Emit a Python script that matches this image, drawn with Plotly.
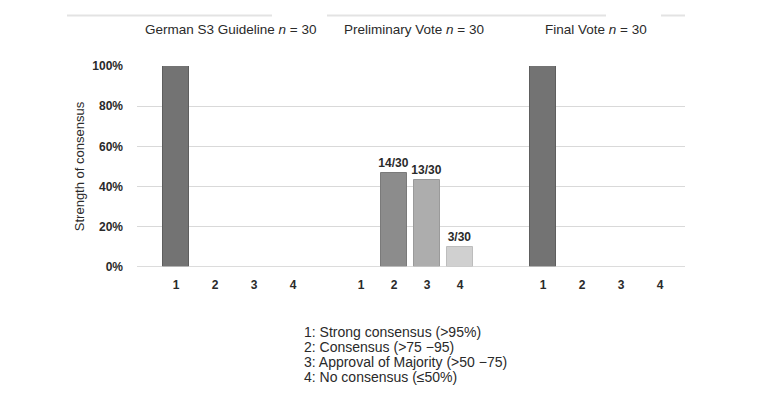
import plotly.graph_objects as go

# ---- data ----
group_titles = ["German S3 Guideline <i>n</i> = 30",
                "Preliminary Vote <i>n</i> = 30",
                "Final Vote <i>n</i> = 30"]
categories = ["1", "2", "3", "4"]
german_s3 = [1.0, 0.0, 0.0, 0.0]
preliminary = [0.0, 14 / 30, 13 / 30, 3 / 30]
final_vote = [1.0, 0.0, 0.0, 0.0]
preliminary_labels = ["", "14/30", "13/30", "3/30"]
y_ticks = [0, 0.2, 0.4, 0.6, 0.8, 1.0]
y_ticklabels = ["0%", "20%", "40%", "60%", "80%", "100%"]
legend_lines = ["1: Strong consensus (>95%)",
                "2: Consensus (>75 \u221295)",
                "3: Approval of Majority (>50 \u221275)",
                "4: No consensus (\u226450%)"]

# ---- styling / layout ----
OFF = 8                               # page body margin of the browser
W, H = 772 - OFF, 397 - OFF
PL, PR, PT, PB = 137, 685, 66, 267   # plot area in page pixels
cat_colors = ["#737373", "#8c8c8c", "#adadad", "#d0d0d0"]
border_colors = ["#5e5e5e", "#7a7a7a", "#9a9a9a", "#bdbdbd"]
group_first = [176, 361, 543]      # axis units of first category in each group
group_step = [39, 33, 39]
font_family = "Liberation Sans, Arial, sans-serif"
text_color = "#2a2a2a"


def px(x):
    return (x - PL) / (PR - PL)


def py(y):
    return (PB - y) / (PB - PT)


series = [german_s3, preliminary, final_vote]
texts = [[""] * 4, preliminary_labels, [""] * 4]

fig = go.Figure()
tickvals, ticktext = [], []
for g, vals in enumerate(series):
    xs = [group_first[g] + i * group_step[g] for i in range(len(categories))]
    tickvals += xs
    ticktext += categories
    fig.add_trace(go.Bar(
        x=xs, y=vals, width=26,
        marker=dict(color=cat_colors,
                    line=dict(color=border_colors,
                              width=[1 if v > 0 else 0 for v in vals])),
        text=texts[g], textposition="outside", cliponaxis=False,
        constraintext="none",
        textfont=dict(family=font_family, size=12, color=text_color, weight="bold"),
        showlegend=False, hoverinfo="skip"))

fig.update_layout(
    width=W, height=H,
    margin=dict(l=PL - OFF, r=772 - PR, t=PT - OFF, b=397 - PB, autoexpand=False),
    paper_bgcolor="white", plot_bgcolor="white",
    font=dict(family=font_family, color=text_color),
    xaxis=dict(range=[PL, PR], tickvals=tickvals, ticktext=ticktext,
               showgrid=False, zeroline=False, showline=False,
               ticks="", ticklabelstandoff=9, automargin=False,
               tickfont=dict(size=12, color=text_color, weight="bold")),
    yaxis=dict(range=[0, 1], tickvals=y_ticks, ticktext=y_ticklabels,
               showgrid=True, gridcolor="#d9d9d9", gridwidth=1,
               zeroline=False, showline=False, ticks="",
               ticklabelstandoff=13, automargin=False,
               tickfont=dict(size=12, color=text_color, weight="bold"),
               title=dict(text="Strength of consensus", standoff=4,
                          font=dict(size=13, color=text_color))),
    bargap=0,
)

# bottom axis line
fig.add_shape(type="line", xref="paper", yref="y", x0=0, x1=1, y0=0, y1=0,
              line=dict(color="#d0d0d0", width=1.5))

# group titles
title_centers = [231, 414, 596]
for t, cx in zip(group_titles, title_centers):
    fig.add_annotation(text=t, x=px(cx), y=py(29), xref="paper", yref="paper",
                       xanchor="center", yanchor="middle", showarrow=False,
                       font=dict(size=13.5, color=text_color, family=font_family))

# decorative top lines
for x0, x1 in [(67, 272), (327, 606), (661, 685)]:
    fig.add_shape(type="line", xref="paper", yref="paper",
                  x0=px(x0), x1=px(x1), y0=py(15.5), y1=py(15.5),
                  line=dict(color="#e3e3e3", width=2))

# explanation text, one line each
for i, line in enumerate(legend_lines):
    fig.add_annotation(text=line, x=px(302), y=py(332 + 15 * i),
                       xref="paper", yref="paper", xanchor="left", yanchor="middle",
                       align="left", showarrow=False,
                       font=dict(size=14, color=text_color, family=font_family))

fig.write_html("out.html")
